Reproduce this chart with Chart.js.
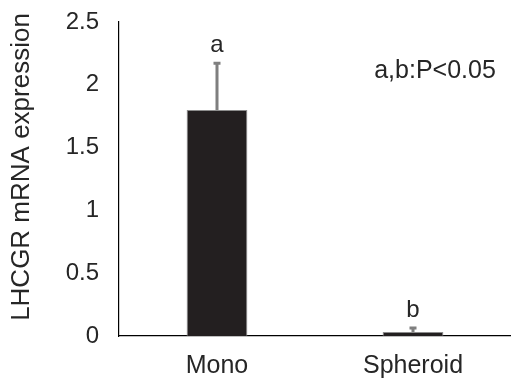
<!DOCTYPE html>
<html>
<head>
<meta charset="utf-8">
<script src="https://cdn.jsdelivr.net/npm/chart.js@4.4.1/dist/chart.umd.min.js"></script>
<style>
  html, body { margin: 0; padding: 0; background: #fff; }
  #wrap { width: 511px; height: 380px; position: relative; }
</style>
</head>
<body>
<div id="wrap"><canvas id="myChart"></canvas></div>
<script>
// data
const groups = ['Mono', 'Spheroid'];
const means = [1.8, 0.032];
const errors = [0.38, 0.04];
const letters = ['a', 'b'];
const yTicks = [0, 0.5, 1, 1.5, 2, 2.5];
const yTitle = 'LHCGR mRNA expression';
const note = 'a,b:P<0.05';

const fontFam = '"Liberation Sans", Arial, sans-serif';
const textCol = '#262626';

/*error bars, letters and labels*/
const extras = {
  id: 'extras',
  afterDatasetsDraw(chart) {
    const c = chart.ctx, xs = chart.scales.x, ys = chart.scales.y;
    c.save();
    means.forEach((m, i) => {
      const x = xs.getPixelForValue(i);
      const yBar = ys.getPixelForValue(m);
      const yTop = ys.getPixelForValue(m + errors[i]);
      c.strokeStyle = '#7f7f7f';
      c.lineWidth = 3;
      c.beginPath();
      c.moveTo(x, yBar);
      c.lineTo(x, yTop);
      c.moveTo(x - 3.5, yTop + 1);
      c.lineTo(x + 3.5, yTop + 1);
      c.stroke();
      c.fillStyle = textCol;
      c.font = '24px ' + fontFam;
      c.textAlign = 'center';
      c.textBaseline = 'middle';
      c.fillText(letters[i], x, yTop - 17);
    });
    const a = chart.chartArea;
    c.font = '25px ' + fontFam;
    c.fillText(note, a.left + 316, a.top + 49);
    c.translate(22, 167);
    c.rotate(-Math.PI / 2);
    c.font = '26px ' + fontFam;
    c.fillText(yTitle, 0, 0);
    c.restore();
  }
};

var ctx = document.getElementById('myChart').getContext('2d');
var myChart = new Chart(ctx, {
  type: 'bar',
  data: {
    labels: groups,
    datasets: [{
      data: means,
      backgroundColor: '#231f20',
      borderColor: '#8c8c8c',
      borderWidth: 1,
      barPercentage: 0.31,
      categoryPercentage: 1
    }]
  },
  options: {
    responsive: true,
    maintainAspectRatio: false,
    animation: false,
    layout: { padding: { top: 22, right: -6, left: 0, bottom: 0 } },
    plugins: { legend: { display: false }, tooltip: { enabled: false } },
    scales: {
      x: {
        grid: { display: false, drawTicks: false },
        border: { color: '#000', width: 1.2 },
        ticks: { padding: 15, color: textCol, font: { size: 25, family: fontFam } },
        afterFit: (s) => { s.height = 44; s.paddingLeft = 0; s.paddingRight = 0; }
      },
      y: {
        min: 0,
        max: 2.5,
        afterBuildTicks: (s) => { s.ticks = yTicks.map(v => ({ value: v })); },
        grid: { display: false, drawTicks: false },
        border: { color: '#000', width: 1.2 },
        ticks: {
          padding: 20, color: textCol, font: { size: 24, family: fontFam },
          callback: (v) => String(v)
        },
        afterFit: (s) => { s.width = 119; s.paddingTop = 0; s.paddingBottom = 0; }
      }
    }
  },
  plugins: [extras]
});
</script>
</body>
</html>
